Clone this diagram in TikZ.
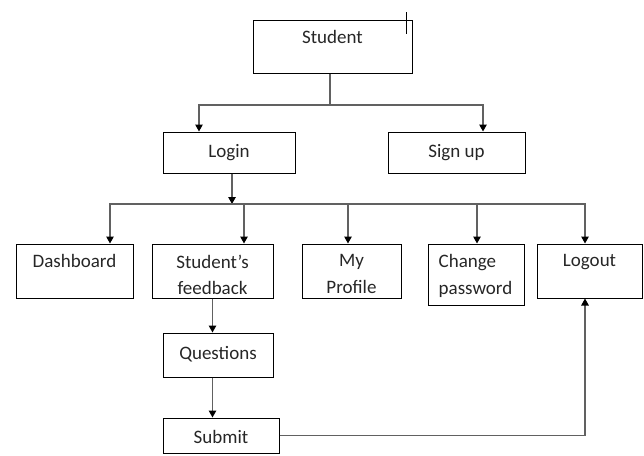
\documentclass[tikz,border=0pt]{standalone}
\usepackage{fontspec}
\setmainfont{Carlito}
\usetikzlibrary{arrows.meta}
\begin{document}
\begin{tikzpicture}[x=1pt,y=-1pt,
  box/.style={draw=black,line width=1pt,inner sep=0pt,rectangle},
  txt/.style={inner sep=0pt,font=\fontsize{19}{26.5}\selectfont,text=black!85,align=center},
  conn/.style={draw=black!62,line width=1.2pt},
  arr/.style={conn,-{Triangle[length=7pt,width=7.5pt,black]}}]
\useasboundingbox (0,0) rectangle (644,455);
% boxes
\node[box,minimum width=159pt,minimum height=53pt] (student) at (332.5,46.5) {};
\node[box,minimum width=132pt,minimum height=41pt] (login) at (229,152.5) {};
\node[box,minimum width=137pt,minimum height=41pt] (signup) at (456.5,152.5) {};
\node[box,minimum width=117pt,minimum height=54pt] (dash) at (74.5,271) {};
\node[box,minimum width=121pt,minimum height=54pt] (fb) at (212.5,271) {};
\node[box,minimum width=99pt,minimum height=54pt] (prof) at (351.5,271) {};
\node[box,minimum width=96pt,minimum height=61pt] (chg) at (476,274.5) {};
\node[box,minimum width=105pt,minimum height=54pt] (logout) at (589.5,271) {};
\node[box,minimum width=110pt,minimum height=44pt] (quest) at (218,355) {};
\node[box,minimum width=116pt,minimum height=35pt] (submit) at (221,435.5) {};
% texts
\node[txt,anchor=north] (studentT) at ([yshift=-11pt]student.north) {Student};
\node[txt,anchor=north] (loginT) at ([yshift=-12.5pt]login.north) {Login};
\node[txt,anchor=north] (signupT) at ([yshift=-12.5pt]signup.north) {Sign up};
\node[txt,anchor=north] (dashT) at ([yshift=-11pt]dash.north) {Dashboard};
\node[txt,anchor=north] (fbT) at ([yshift=-11pt]fb.north) {Student’s\\feedback};
\node[txt,anchor=north] (profT) at ([yshift=-11pt]prof.north) {My\\Profile};
\node[txt,anchor=north west,align=left] (chgT) at ([xshift=11pt,yshift=-11pt]chg.north west) {Change\\password};
\node[txt,anchor=north] (logoutT) at ([yshift=-11pt]logout.north) {Logout};
\node[txt,anchor=north] (questT) at ([yshift=-13.5pt]quest.north) {Questions};
\node[txt,anchor=north] (submitT) at ([yshift=-12.5pt]submit.north) {Submit};
% cursor mark
\coordinate (cur1) at (406,12);
\coordinate (cur2) at (406,34);
\draw[black,line width=0.8pt] (cur1) -- (cur2);
% junctions
\coordinate (j1) at (330,105);
\coordinate (j2) at (232,204);
% Student -> Login / Sign up
\draw[conn] (student.south -| j1) -- (j1);
\draw[arr] (j1) -| ([xshift=-30pt]login.north);
\draw[arr] (j1) -| ([xshift=26.5pt]signup.north);
% Login -> bus
\draw[arr] (login.south -| j2) -- (j2);
\draw[arr] (j2) -| ([xshift=35.5pt]dash.north);
\draw[arr] (j2) -| ([xshift=-4.5pt]logout.north);
\draw[arr] ([xshift=31.5pt]fb.north |- j2) -- ([xshift=31.5pt]fb.north);
\draw[arr] ([xshift=-3.5pt]prof.north |- j2) -- ([xshift=-3.5pt]prof.north);
\draw[arr] ([xshift=1pt]chg.north |- j2) -- ([xshift=1pt]chg.north);
% feedback -> questions -> submit
\draw[arr] (fb.south) -- (fb.south |- quest.north);
\draw[arr] (quest.south -| fb.south) -- (submit.north -| fb.south);
% submit -> logout
\draw[arr] (submit.east) -| ([xshift=-4.5pt]logout.south);
\end{tikzpicture}
\end{document}
